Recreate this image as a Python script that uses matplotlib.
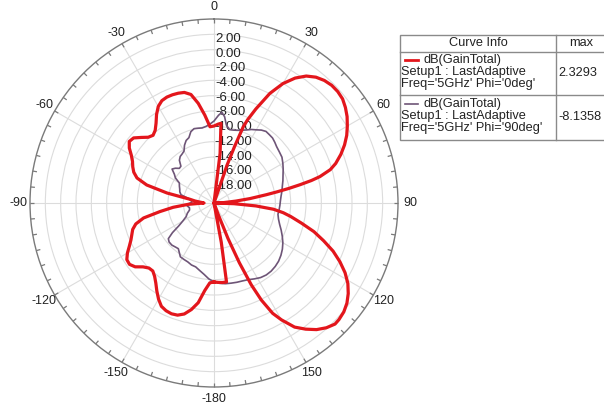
import numpy as np
import matplotlib
matplotlib.use("Agg")
import matplotlib.pyplot as plt
from matplotlib.patches import Rectangle
from matplotlib.lines import Line2D

plt.rcParams['font.family'] = ['Liberation Sans', 'DejaVu Sans']

# Gain pattern, Phi = 0 deg (theta in degrees, gain in dB)
theta_phi0 = [
    -180, -177, -174, -171, -168, -165, -162, -159, -156, -153, -150, -147,
    -144, -141, -138, -135, -132, -129, -126, -123, -120, -117, -114, -111,
    -108, -105, -102, -99, -96, -93, -90, -87, -84, -81, -78, -75, -72, -69,
    -66, -63, -60, -57, -54, -51, -48, -45, -42, -39, -36, -33, -30, -27,
    -24, -21, -18, -15, -12, -9, -6, -3, 0, 3, 5, 7, 8, 12, 17, 19, 20, 21,
    22, 24, 27, 30, 33, 36, 39, 42, 45, 48, 51, 54, 57, 60, 63, 66, 69, 72,
    74, 76, 77, 78, 79, 80, 81, 83, 85, 88, 90, 92, 94, 96, 98, 100, 103,
    106, 109, 112, 115, 118, 121, 124, 127, 130, 133, 135, 138, 141, 144,
    147, 150, 152, 154, 155.5, 157, 158.5, 160, 161, 168, 169.5, 171, 174,
    177, 180]
gain_phi0 = [
    -9.70, -9.57, -8.53, -6.83, -5.79, -5.01, -4.62, -4.52, -4.62, -4.88,
    -5.53, -6.31, -7.09, -7.69, -8.07, -8.00, -7.55, -6.77, -6.38, -6.44,
    -6.96, -7.61, -8.14, -8.53, -8.85, -9.44, -10.61, -12.87, -14.65, -16.61,
    -18.70, -18.31, -17.52, -16.74, -13.74, -10.91, -9.44, -8.79, -8.40,
    -8.07, -7.55, -6.83, -6.34, -6.51, -7.22, -7.87, -8.12, -7.81, -7.14,
    -6.24, -5.46, -5.02, -4.88, -4.88, -4.94, -5.07, -5.53, -6.83, -8.46,
    -10.04, -9.96, -9.70, -9.57, -13.48, -20.0, -20.0, -20.0, -14.78, -12.18,
    -9.35, -8.27, -6.57, -3.96, -2.01, -0.57, 0.47, 1.12, 1.51, 1.71, 1.72,
    1.58, 1.19, 0.70, 0.08, -0.57, -1.36, -2.27, -3.31, -4.22, -5.76, -6.96,
    -8.53, -10.09, -11.69, -13.09, -15.27, -17.13, -18.83, -20.0, -17.39,
    -14.52, -12.18, -10.87, -9.83, -8.27, -6.44, -4.88, -3.25, -1.88, -0.64,
    0.37, 1.12, 1.71, 2.10, 2.29, 2.3293, 1.90, 1.25, 0.34, -0.70, -2.40,
    -3.70, -5.92, -8.27, -11.53, -15.05, -18.44, -20.0, -20.0, -14.78, -9.57,
    -9.57, -9.63, -9.70]

# Gain pattern, Phi = 90 deg
theta_phi90 = [
    -180, -176, -172, -168, -164, -160, -156, -152, -148, -145, -142, -139,
    -135, -131, -128, -125.5, -123, -120, -116, -111, -106, -101, -96, -92,
    -88, -84, -80, -76, -72, -68, -64, -60, -57, -54, -51, -48, -45, -42,
    -39, -36, -33, -30, -27, -24, -21, -18, -15, -12, -9, -6, -3, 0, 3, 5,
    7, 9, 12, 15, 18, 21, 24, 27, 30, 33, 36, 39, 42, 45, 48, 52, 56, 60,
    64, 68, 72, 76, 80, 84, 88, 92, 96, 100, 104, 108, 112, 116, 120, 124,
    128, 132, 136, 140, 144, 148, 152, 156, 160, 164, 168, 172, 176, 180]
gain_phi90 = [
    -9.70, -10.09, -10.61, -11.00, -11.33, -11.40, -11.59, -11.66, -11.72,
    -12.11, -12.44, -12.37, -12.23, -12.24, -12.44, -13.35, -14.52, -15.31,
    -15.96, -16.28, -16.68, -16.74, -16.48, -16.61, -17.13, -17.00, -16.61,
    -15.57, -15.31, -15.18, -14.98, -14.78, -14.00, -13.61, -12.96, -13.22,
    -13.61, -13.55, -12.83, -12.50, -12.37, -12.18, -11.53, -11.07, -10.87,
    -10.22, -9.96, -10.03, -10.09, -9.96, -9.70, -9.31, -8.53, -8.1358, -8.66,
    -9.70, -10.22, -10.16, -10.03, -9.83, -9.57, -9.24, -8.98, -8.66, -8.46,
    -8.53, -8.59, -8.79, -9.01, -9.18, -9.31, -9.63, -9.96, -10.29, -10.55,
    -10.81, -11.00, -11.20, -11.33, -11.40, -11.46, -11.53, -11.33, -11.00,
    -10.55, -10.09, -9.63, -9.24, -8.92, -8.66, -8.50, -8.40, -8.40, -8.53,
    -8.79, -9.05, -9.18, -9.24, -9.31, -9.37, -9.50, -9.70]

angle_labels = [0, 30, 60, 90, 120, 150, -180, -150, -120, -90, -60, -30]
radial_labels = [2, 0, -2, -4, -6, -8, -10, -12, -14, -16, -18]
legend_names = ["dB(GainTotal)", "Setup1 : LastAdaptive"]
legend_freq = ["Freq='5GHz' Phi='0deg'", "Freq='5GHz' Phi='90deg'"]
legend_max = ["2.3293", "-8.1358"]

RMIN, RMAX = -20.0, 4.0
RED = '#e3161c'
PURPLE = '#6e5577'
GRID = '#dcdcdc'
TEXT = '#222222'

fig = plt.figure(figsize=(6.04, 4.05), dpi=100)
fig.patch.set_facecolor('white')

ax = fig.add_axes([30 / 604, 18 / 405, 368 / 604, 368 / 405], projection='polar')
ax.set_theta_zero_location('N')
ax.set_theta_direction(-1)
ax.set_rlim(RMIN, RMAX)
ax.set_xticks(np.radians(np.arange(0, 360, 30)))
ax.set_yticks(np.arange(-18, 4, 2))
ax.set_xticklabels([])
ax.set_yticklabels([])
ax.tick_params(length=0)
ax.grid(True, color=GRID, lw=0.8)
ax.spines['polar'].set_color('#7a7a7a')
ax.spines['polar'].set_linewidth(1.0)

# short inward ticks every 5 degrees on the outer circle
for a in np.arange(0, 360, 5):
    ax.plot([np.radians(a)] * 2, [RMAX, RMAX - 0.55], color='#7a7a7a', lw=0.9,
            solid_capstyle='butt', clip_on=False)

# angle labels outside the circle
r_lab = RMIN + 196 / 7.67
for a in angle_labels:
    ax.text(np.radians(a), r_lab, str(a), ha='center', va='center',
            fontsize=9, color=TEXT, clip_on=False)

# radial labels along the 0 degree axis
for v in radial_labels:
    r_txt = -0.53 + 0.958 * v
    ax.text(np.radians(0.6), r_txt, f"{v:.2f}", ha='left', va='center',
            fontsize=9.5, color=TEXT, clip_on=False)

ax.plot(np.radians(theta_phi90), np.clip(gain_phi90, RMIN, None),
        color=PURPLE, lw=1.2, zorder=3)
ax.plot(np.radians(theta_phi0), np.clip(gain_phi0, RMIN, None),
        color=RED, lw=2.3, zorder=4, solid_joinstyle='round')

# Curve info table
ov = fig.add_axes([0, 0, 1, 1])
ov.set_xlim(0, 604)
ov.set_ylim(405, 0)
ov.axis('off')
ov.patch.set_alpha(0)

x0, x1, xc = 400, 612, 556
y0, yh, yd, y1 = 35, 52, 95, 140
edge = '#8a8a8a'
ov.add_patch(Rectangle((x0, y0), x1 - x0, y1 - y0, facecolor='white',
                       edgecolor=edge, lw=1.0))
ov.add_line(Line2D([x0, x1], [yh, yh], color=edge, lw=1.0))
ov.add_line(Line2D([x0, x1], [yd, yd], color=edge, lw=1.0))
ov.add_line(Line2D([xc, xc], [y0, y1], color=edge, lw=1.0))

fs = 9.2
ov.text((x0 + xc) / 2, 43.5, "Curve Info", ha='center', va='center',
        fontsize=fs, color=TEXT)
ov.text(581, 43.5, "max", ha='center', va='center', fontsize=fs, color=TEXT)

for i, (col, lw) in enumerate([(RED, 2.0), (PURPLE, 1.2)]):
    top = yh + 8 if i == 0 else yd + 9
    ov.add_line(Line2D([405, 418], [top, top], color=col, lw=lw))
    ov.text(424, top, legend_names[0], ha='left', va='center', fontsize=fs,
            color=TEXT)
    ov.text(401, top + 12, legend_names[1], ha='left', va='center',
            fontsize=fs, color=TEXT)
    ov.text(401, top + 24, legend_freq[i], ha='left', va='center',
            fontsize=fs, color=TEXT)
    ov.text(558, top + 13, legend_max[i], ha='left', va='center',
            fontsize=fs, color=TEXT)

fig.savefig('out.png', dpi=100, facecolor='white')
